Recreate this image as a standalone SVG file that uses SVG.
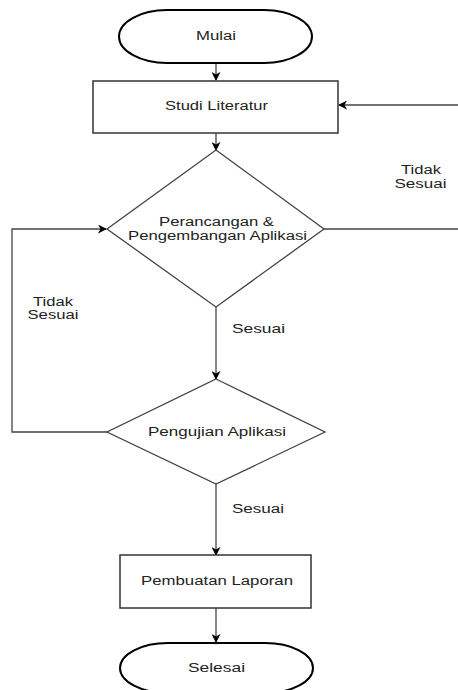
<svg xmlns="http://www.w3.org/2000/svg" width="458" height="690" viewBox="0 0 458 690">
<style>
text{font-family:"Liberation Sans",Arial,sans-serif;font-size:12px;fill:#222;text-anchor:middle}
.term{fill:#fff;stroke:#000;stroke-width:2}
.box{fill:#fff;stroke:#333;stroke-width:1.5}
.dec{fill:#fff;stroke:#444;stroke-width:1.3}
.edge{fill:none;stroke:#444;stroke-width:1.3}
</style>
<defs>
<marker id="arr" viewBox="0 0 10 10" refX="9" refY="5" markerWidth="9" markerHeight="9" markerUnits="userSpaceOnUse" orient="auto">
<path d="M0,0 L10,5 L0,10 L3,5 z" fill="#000"/>
</marker>
</defs>
<rect width="458" height="690" fill="#fff"/>
<g id="connectors">
<line class="edge" x1="216" y1="63" x2="216" y2="80" marker-end="url(#arr)"/>
<line class="edge" x1="216" y1="133" x2="216" y2="150" marker-end="url(#arr)"/>
<line class="edge" x1="216" y1="307" x2="216" y2="379" marker-end="url(#arr)"/>
<line class="edge" x1="216" y1="484" x2="216" y2="555" marker-end="url(#arr)"/>
<line class="edge" x1="216" y1="608" x2="216" y2="642" marker-end="url(#arr)"/>
<polyline class="edge" points="107,432 12,432 12,229 106,229" marker-end="url(#arr)"/>
<line class="edge" x1="324" y1="229" x2="460" y2="229"/>
<line class="edge" x1="460" y1="105" x2="339" y2="105" marker-end="url(#arr)"/>
<text x="421" y="174" textLength="40" lengthAdjust="spacingAndGlyphs">Tidak</text>
<text x="420.5" y="188" textLength="52" lengthAdjust="spacingAndGlyphs">Sesuai</text>
<text x="53" y="306" textLength="40" lengthAdjust="spacingAndGlyphs">Tidak</text>
<text x="53" y="319" textLength="51" lengthAdjust="spacingAndGlyphs">Sesuai</text>
<text x="258.5" y="333" textLength="53" lengthAdjust="spacingAndGlyphs">Sesuai</text>
<text x="258" y="513" textLength="52" lengthAdjust="spacingAndGlyphs">Sesuai</text>
</g>
<g id="mulai">
<rect class="term" x="119" y="10" width="193" height="53" rx="48" ry="26.5"/>
<text x="216" y="40" textLength="40" lengthAdjust="spacingAndGlyphs">Mulai</text>
</g>
<g id="studi">
<rect class="box" x="93" y="81" width="245" height="52"/>
<text x="216.5" y="110" textLength="103" lengthAdjust="spacingAndGlyphs">Studi Literatur</text>
</g>
<g id="perancangan">
<polygon class="dec" points="216,150 324,229 216,307 107,229"/>
<text x="216.5" y="226" textLength="115" lengthAdjust="spacingAndGlyphs">Perancangan &amp;</text>
<text x="217.5" y="240" textLength="179" lengthAdjust="spacingAndGlyphs">Pengembangan Aplikasi</text>
</g>
<g id="pengujian">
<polygon class="dec" points="216,379 325,432 216,484 107,432"/>
<text x="217" y="436" textLength="138" lengthAdjust="spacingAndGlyphs">Pengujian Aplikasi</text>
</g>
<g id="pembuatan">
<rect class="box" x="120" y="555" width="191" height="53"/>
<text x="217" y="585" textLength="152" lengthAdjust="spacingAndGlyphs">Pembuatan Laporan</text>
</g>
<g id="selesai">
<rect class="term" x="120" y="643" width="193" height="50" rx="48" ry="25"/>
<text x="216.5" y="672" textLength="57" lengthAdjust="spacingAndGlyphs">Selesai</text>
</g>
</svg>
